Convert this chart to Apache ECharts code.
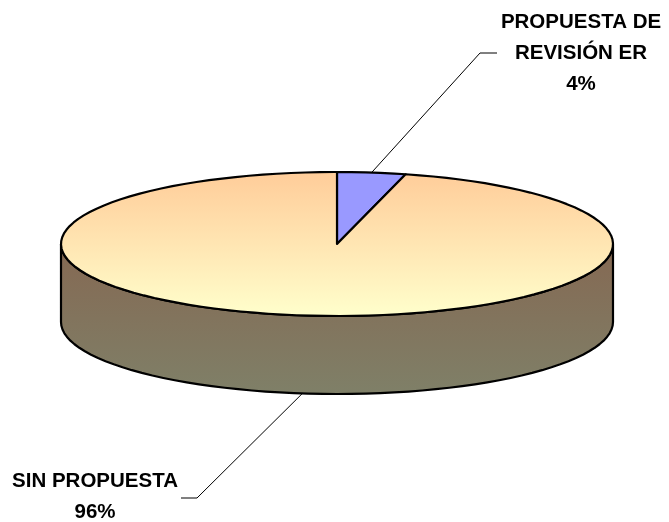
<!DOCTYPE html>
<html>
<head>
<meta charset="utf-8">
<style>
  html, body { margin: 0; padding: 0; background: #fff; }
  #main { width: 669px; height: 522px; }
</style>
<script src="https://cdn.jsdelivr.net/npm/echarts@6/dist/echarts.min.js"></script>
</head>
<body>
<div id="main"></div>
<script>
var categories = ['PROPUESTA DE\nREVISIÓN ER', 'SIN PROPUESTA'];
var values = [4, 96];
var sliceColors = ['#9999FF', null];

var cx = 337, cy = 244, rx = 276, ry = 72, depth = 78;
// corner of the leader line and where it stops, then the label centre
var labelLayout = [
  { corner: [480, 53], end: [497, 53], text: [581, 7], align: 'center' },
  { corner: [197, 498], end: [181, 498], text: [95, 466], align: 'center' }
];
var total = values.reduce(function (a, b) { return a + b; }, 0);

function pt(deg, dy) {
  var r = deg * Math.PI / 180;
  return [cx + rx * Math.sin(r), cy - ry * Math.cos(r) + (dy || 0)];
}
function arc(from, to, dy) {
  var pts = [], step = 3;
  for (var a = from; a < to; a += step) pts.push(pt(a, dy));
  pts.push(pt(to, dy));
  return pts;
}
function grad(c0, c1) {
  return new echarts.graphic.LinearGradient(0, 0, 0, 1, [
    { offset: 0, color: c0 }, { offset: 1, color: c1 }
  ], false);
}

function renderSlice(params, api) {
  var i = params.dataIndex;
  var before = 0;
  for (var k = 0; k < i; k++) before += values[k];
  var start = before / total * 360;
  var end = (before + api.value(0)) / total * 360;
  var mid = (start + end) / 2;
  var kids = [];

  // side wall, only the front half of the disc shows
  var s = Math.max(start, 90), e = Math.min(end, 270);
  if (e > s) {
    var front = arc(s, e, 0);
    var back = arc(s, e, depth).reverse();
    kids.push({
      type: 'polygon',
      shape: { points: front.concat(back) },
      style: {
        fill: grad('#856852', '#7F8068'),
        stroke: '#000', lineWidth: 2.2, lineJoin: 'round'
      }
    });
  }

  // top face
  kids.push({
    type: 'polygon',
    shape: { points: [[cx, cy]].concat(arc(start, end, 0)) },
    style: {
      fill: sliceColors[i] || grad('#FFCC99', '#FFFFCC'),
      stroke: '#000', lineWidth: 2.2, lineJoin: 'round'
    }
  });

  // leader line from the middle of the slice
  var lay = labelLayout[i];
  var anchor = pt(mid, mid > 90 && mid < 270 ? depth : 0);
  kids.push({
    type: 'polyline',
    shape: { points: [anchor, lay.corner, lay.end] },
    style: { fill: null, stroke: '#000', lineWidth: 1 }
  });

  kids.push({
    type: 'text',
    x: lay.text[0],
    y: lay.text[1],
    style: {
      text: categories[i] + '\n' + Math.round(api.value(0) / total * 100) + '%',
      font: 'bold 20.5px "Liberation Sans", Arial, sans-serif',
      fill: '#000',
      align: lay.align,
      verticalAlign: 'top',
      lineHeight: 31
    }
  });

  return { type: 'group', children: kids };
}

var chart = echarts.init(document.getElementById('main'));
chart.setOption({
  animation: false,
  backgroundColor: '#fff',
  series: [{
    type: 'custom',
    coordinateSystem: 'none',
    renderItem: renderSlice,
    clip: false,
    silent: true,
    data: values.map(function (v) { return [v]; })
  }]
});
</script>
</body>
</html>
